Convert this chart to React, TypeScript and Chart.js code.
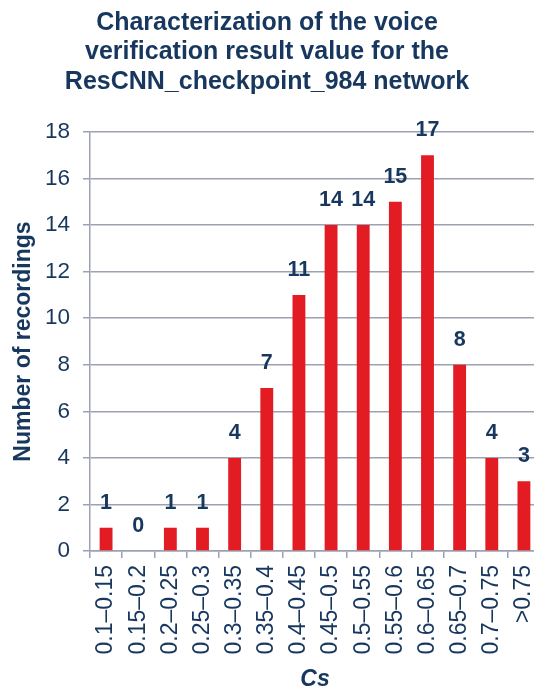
import React, { useEffect, useRef } from "react";
import { Chart, registerables } from "chart.js";

Chart.register(...registerables);

const categories = [
  "0.1–0.15", "0.15–0.2", "0.2–0.25", "0.25–0.3", "0.3–0.35", "0.35–0.4", "0.4–0.45",
  "0.45–0.5", "0.5–0.55", "0.55–0.6", "0.6–0.65", "0.65–0.7", "0.7–0.75", ">0.75",
];
const recordings = [1, 0, 1, 1, 4, 7, 11, 14, 14, 15, 17, 8, 4, 3];
const titleLines = [
  "Characterization of the voice",
  "verification result value for the",
  "ResCNN_checkpoint_984 network",
];
const yTitle = "Number of recordings";
const xTitle = "Cs";

const NAVY = "#17375E";
const RED = "#E31B23";
const GRID = "#9DA2B3";
const FONT = "'Liberation Sans', Arial, sans-serif";

const titlePlugin = {
  id: "customTitle",
  afterDraw(chart: any) {
    const ctx = chart.ctx;
    ctx.save();
    ctx.fillStyle = NAVY;
    ctx.font = `bold 25px ${FONT}`;
    ctx.textAlign = "center";
    ctx.textBaseline = "middle";
    const ys = [23, 52.5, 82];
    titleLines.forEach((t, i) => ctx.fillText(t, 267, ys[i]));
    ctx.restore();
  },
};

const labelPlugin = {
  id: "barLabels",
  afterDatasetsDraw(chart: any) {
    const ctx = chart.ctx;
    const meta = chart.getDatasetMeta(0);
    ctx.save();
    ctx.fillStyle = NAVY;
    ctx.font = `bold 21.5px ${FONT}`;
    ctx.textAlign = "center";
    ctx.textBaseline = "middle";
    meta.data.forEach((el: any, i: number) => {
      ctx.fillText(String(recordings[i]), el.x, el.y - 25);
    });
    ctx.restore();
  },
};

export default function App() {
  const ref = useRef<HTMLCanvasElement | null>(null);
  useEffect(() => {
    if (!ref.current) return;
    const chart = new Chart(ref.current, {
      type: "bar",
      data: {
        labels: categories,
        datasets: [
          {
            data: recordings,
            backgroundColor: RED,
            borderWidth: 0,
            barPercentage: 0.4,
            categoryPercentage: 1,
          },
        ],
      },
      options: {
        responsive: false,
        animation: false,
        devicePixelRatio: 1,
        layout: { padding: { top: 132, left: 0, right: 0, bottom: 0 } },
        plugins: {
          legend: { display: false },
          title: { display: false },
          tooltip: { enabled: false },
        },
        scales: {
          x: {
            offset: true,
            afterFit: (s: any) => {
              s.height = 142;
              s.paddingLeft = 0;
              s.paddingRight = 0;
            },
            grid: {
              offset: true,
              drawOnChartArea: false,
              drawTicks: true,
              tickLength: 7,
              color: GRID,
              lineWidth: 1.5,
            },
            border: { color: GRID, width: 1.5 },
            ticks: {
              minRotation: 90,
              maxRotation: 90,
              autoSkip: false,
              padding: 7,
              color: NAVY,
              font: { family: FONT, size: 23 },
            },
            title: {
              display: true,
              text: xTitle,
              color: NAVY,
              font: { family: FONT, size: 23, weight: "bold", style: "italic" },
              padding: { top: 0, bottom: 0 },
            },
          },
          y: {
            min: 0,
            max: 18,
            afterFit: (s: any) => {
              s.width = 90;
              s.paddingTop = 0;
              s.paddingBottom = 0;
            },
            grid: {
              color: GRID,
              lineWidth: 1.5,
              tickLength: 7,
              drawTicks: true,
            },
            border: { color: GRID, width: 1.5 },
            ticks: {
              stepSize: 2,
              padding: 13,
              color: NAVY,
              font: { family: FONT, size: 22.5 },
            },
            title: {
              display: true,
              text: yTitle,
              color: NAVY,
              font: { family: FONT, size: 23, weight: "bold" },
              padding: { top: 10, bottom: 0 },
            },
          },
        },
      },
      plugins: [titlePlugin, labelPlugin],
    });
    return () => chart.destroy();
  }, []);
  return (
    <div
      style={{
        position: "fixed",
        left: 0,
        top: 0,
        width: 534,
        height: 693,
        overflow: "hidden",
        background: "#fff",
      }}
    >
      <canvas ref={ref} width={540} height={693} style={{ display: "block" }} />
    </div>
  );
}
